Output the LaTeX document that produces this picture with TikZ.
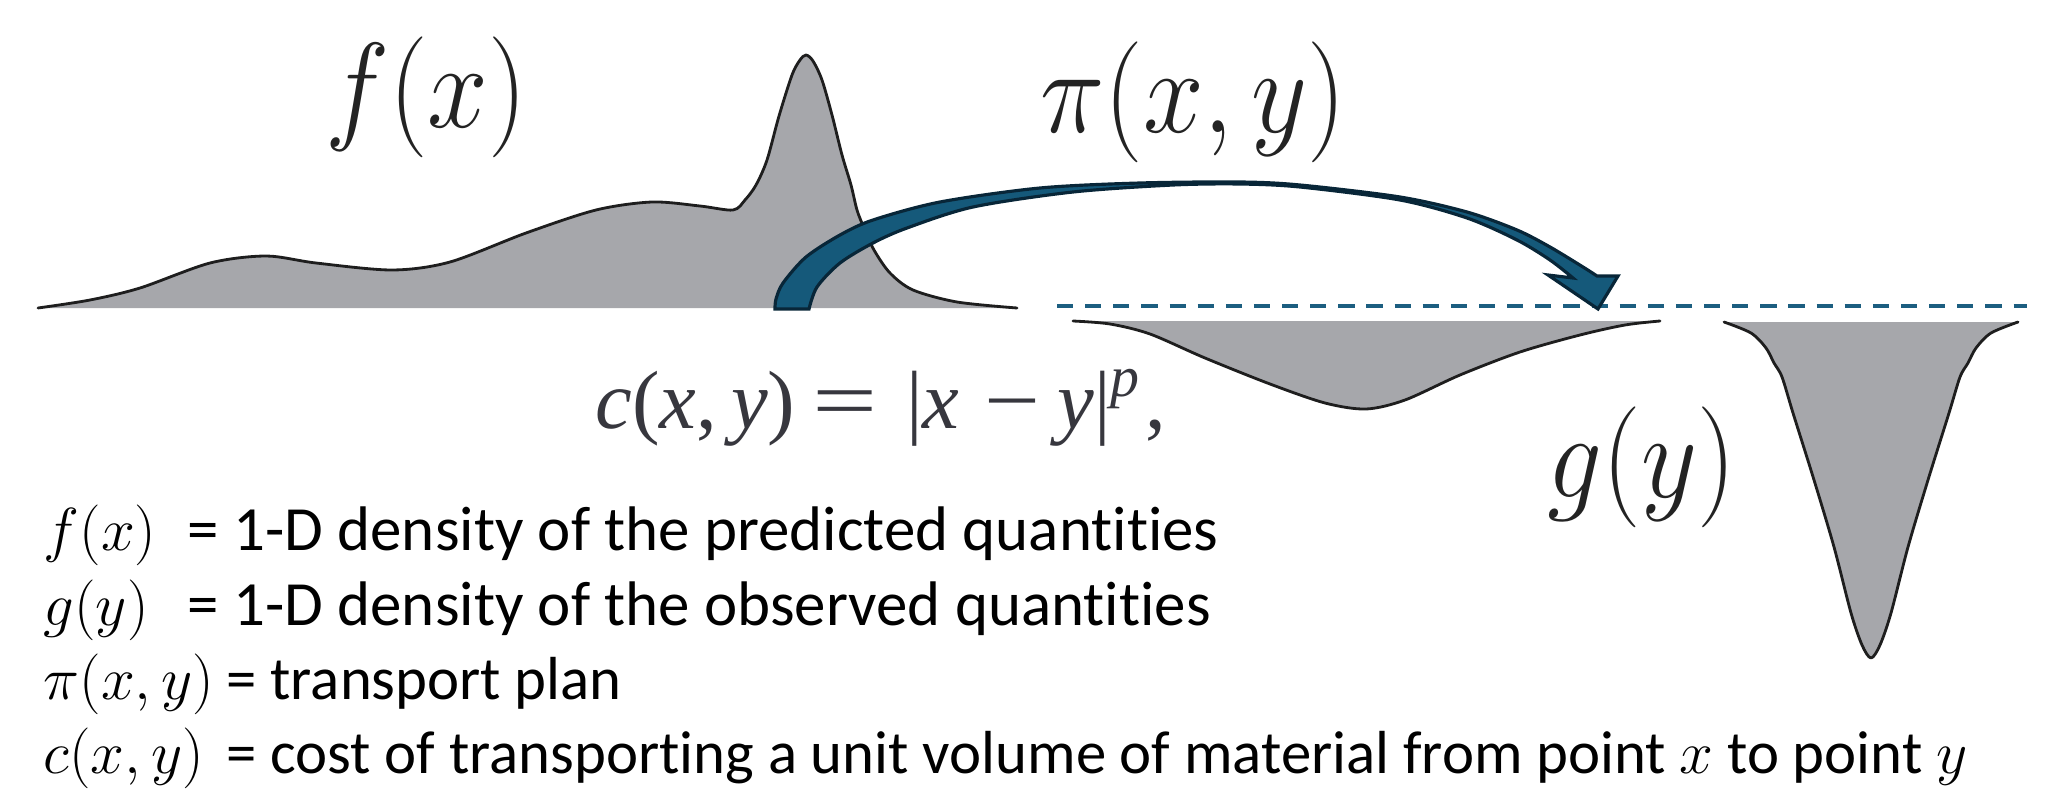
\documentclass[tikz,border=0pt]{standalone}
\usepackage[no-math]{fontspec}
\setmainfont{Carlito}[Ligatures=NoCommon]
\newfontfamily\timesf{Liberation Serif}
\definecolor{fillgray}{RGB}{166,167,171}
\definecolor{arrowfill}{RGB}{21,89,122}
\definecolor{arrowedge}{RGB}{8,38,56}
\definecolor{dashblue}{RGB}{28,94,128}
\definecolor{curveedge}{RGB}{30,30,30}
\definecolor{labelgray}{RGB}{35,35,35}
\definecolor{formulagray}{RGB}{55,55,62}
\newcommand\fcurveA{plot[smooth,tension=0.5] coordinates {(38,308) (90,300) (140,288) (210,263) (266,256) (316,263) (392,270) (450,262) (526,233) (596,210) (652,202) (700,206) (733,210) (745,200) (756,185) (767,160) (779,116) (792,75) (800,60) (806,55) (813,61) (822,80) (832,115) (842,155) (851,185) (857,210) (864,228) (874,250) (890,273) (913,290) (957,302) (1017,308)}}
\newcommand\gcurveA{plot[smooth,tension=0.5] coordinates {(1073,321) (1110,324) (1150,334) (1205,358) (1270,384) (1325,403) (1366,409) (1405,400) (1460,375) (1520,352) (1580,335) (1625,325) (1660,321)}}
\newcommand\gcurveB{plot[smooth,tension=0.5] coordinates {(1724,322) (1751,333) (1766,348) (1774,363) (1782,377) (1793,413) (1814,480) (1834,547) (1851,613) (1862,645) (1871,658) (1880,645) (1891,613) (1908,547) (1928,480) (1949,413) (1960,377) (1968,363) (1976,348) (1991,333) (2018,322)}}
\newcommand\biglbl[1]{\scalebox{1.245}[1.383]{\fontsize{24.88}{30}\selectfont$#1$}}
\newcommand\lgA[1]{\makebox[41pt][l]{$#1$}}
\newcommand\lgB[1]{\makebox[52pt][l]{$#1$}}
\begin{document}
\begin{tikzpicture}[x=0.01cm,y=-0.01cm,
  densityfill/.style={fill=fillgray},
  densityedge/.style={draw=curveedge,line width=0.8pt,line cap=round,line join=round},
  arrowshape/.style={fill=arrowfill,draw=arrowedge,line width=0.9pt,line join=miter},
  dashline/.style={draw=dashblue,line width=1.2pt,dash pattern=on 4.6pt off 3.4pt},
  biglabel/.style={inner sep=0pt,text=labelgray},
  formula/.style={inner sep=0pt,text=formulagray,font=\timesf\fontsize{23.5}{28}\selectfont},
  legendline/.style={inner sep=0pt,anchor=base west,text=black,font=\fontsize{17.28}{20}\selectfont},
  legendwide/.style={legendline,font=\fontsize{17.9}{20}\selectfont}]
\useasboundingbox (0,0) rectangle (2057,797);
% f(x) density
\fill[densityfill] \fcurveA -- cycle;
\draw[densityedge] \fcurveA;
% dashed reference line
\coordinate (dstart) at (1057,305.7);
\coordinate (dend) at (2027,305.7);
\draw[dashline] (dstart) -- (dend);
% transport arrow
\coordinate (headR) at (1618,276);
\coordinate (headTip) at (1598,309);
\coordinate (headL) at (1548,275);
\draw[arrowshape] plot[smooth,tension=0.5] coordinates {(775,309) (776,299) (783,283) (806,257) (840,235) (873,220) (940,202) (1040,188) (1140,183) (1240,182) (1300,185) (1400,197) (1467,212) (1517,230) (1550,247) (1583,267) (1597,276)}
  -- (headR) -- (headTip) -- (headL)
  -- plot[smooth,tension=0.5] coordinates {(1573,278) (1550,260) (1517,240) (1467,218) (1400,200) (1300,187) (1240,184) (1173,185) (1073,192) (973,207) (907,228) (873,243) (840,263) (817,287) (809,309)} -- cycle;
% g(y) density, drawn downward
\fill[densityfill] \gcurveA -- cycle;
\draw[densityedge] \gcurveA;
\fill[densityfill] \gcurveB -- cycle;
\draw[densityedge] \gcurveB;
% labels
\node[biglabel,anchor=base] (flabel) at (426,127) {\biglbl{f(x)}};
\node[biglabel,anchor=base] (pilabel) at (1193,133) {\biglbl{\pi(x,y)}};
\node[biglabel,anchor=base] (glabel) at (1642,497) {\biglbl{g(y)}};
\node[formula,anchor=base west] (cost) at (595,428) {\textit{c}(\textit{x},\,\textit{y})\hspace{5pt}\scalebox{1.4}[1]{=}\hspace{8pt}|\textit{x}\hspace{7pt}\scalebox{1.2}[1]{−}\hspace{5pt}\textit{y}|\textsuperscript{\textit{p}}\hspace{1pt},};
% legend
\node[legendwide] (leg1) at (43,550) {\lgA{f(x)}= 1-D density of the predicted quantities};
\node[legendwide] (leg2) at (43,625) {\lgA{g(y)}= 1-D density of the observed quantities};
\node[legendline] (leg3) at (43,699) {\lgB{\pi(x,y)}= transport plan};
\node[legendline] (leg4) at (43,773) {\lgB{c(x,y)}= cost of transporting a unit volume of material from point $x$ to point $y$};
\end{tikzpicture}
\end{document}
